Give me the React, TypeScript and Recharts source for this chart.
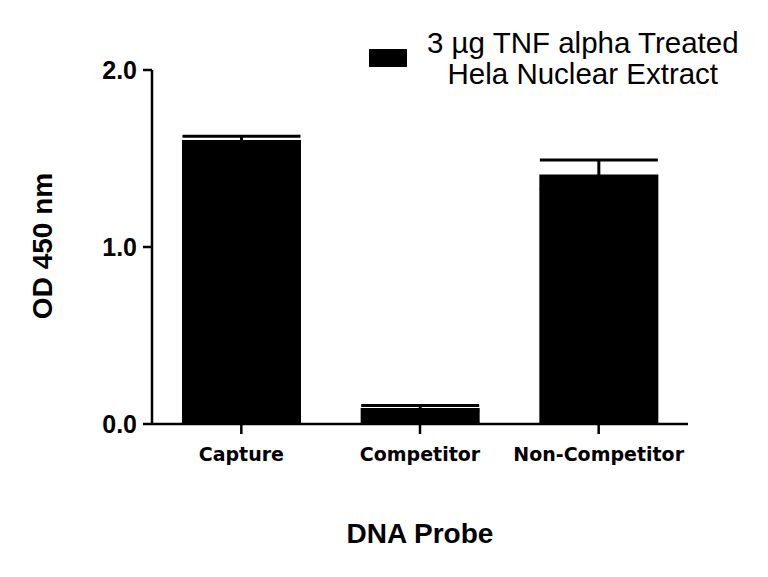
import { Bar, BarChart, ErrorBar, Label, Legend, XAxis, YAxis } from "recharts";

const probes = ["Capture", "Competitor", "Non-Competitor"];
const od450 = [1.605, 0.09, 1.409];
const sem = [0.021, 0.015, 0.083];
const yTicks = [0, 1, 2];
const seriesName = ["3 µg TNF alpha Treated", "Hela Nuclear Extract"];

const data = probes.map((probe, i) => ({ probe, od: od450[i], err: sem[i] }));

const axisFont = "'Liberation Sans', Arial, sans-serif";

function LegendBox() {
  return (
    <div style={{ display: "flex", alignItems: "center" }}>
      <span style={{ display: "inline-block", width: 38, height: 18, background: "#000", marginRight: 20 }} />
      <div style={{ textAlign: "center", fontFamily: axisFont, fontSize: 29.5, lineHeight: "31px", color: "#000" }}>
        {seriesName.map((line) => (
          <div key={line}>{line}</div>
        ))}
      </div>
    </div>
  );
}

export default function App() {
  return (
    <div style={{ position: "absolute", left: 0, top: 0, width: 768, height: 577, background: "#fff" }}>
      <BarChart width={768} height={577} data={data} margin={{ top: 70, right: 80, bottom: 33, left: 0 }}>
        <XAxis
          dataKey="probe"
          stroke="#000"
          strokeWidth={2.5}
          tickSize={10}
          tickMargin={14}
          height={120}
          tick={{ fill: "#000", fontSize: 19, fontWeight: 700, fontFamily: "'DejaVu Sans', sans-serif" }}
        >
          <Label
            content={(props: any) => {
              const vb = props.viewBox;
              return (
                <text x={vb.x + vb.width / 2} y={543} textAnchor="middle" fontFamily={axisFont} fontSize={28} fontWeight={700} fill="#000">
                  DNA Probe
                </text>
              );
            }}
          />
        </XAxis>
        <YAxis
          width={152}
          domain={[0, 2]}
          ticks={yTicks}
          tickFormatter={(v: number) => v.toFixed(1)}
          stroke="#000"
          strokeWidth={2.5}
          tickSize={9}
          tickMargin={6}
          tick={{ fill: "#000", fontSize: 25, fontWeight: 700, fontFamily: axisFont }}
        >
          <Label
            content={() => (
              <text
                x={42}
                y={246}
                transform="rotate(-90 42 246)"
                textAnchor="middle"
                dominantBaseline="central"
                fontFamily={axisFont}
                fontSize={28}
                fontWeight={700}
                fill="#000"
              >
                OD 450 nm
              </text>
            )}
          />
        </YAxis>
        <Legend
          layout="horizontal"
          verticalAlign="middle"
          align="center"
          content={() => <LegendBox />}
          wrapperStyle={{ top: 27, left: 369, width: "auto", height: "auto" }}
        />
        <Bar dataKey="od" fill="#000" barSize={119} isAnimationActive={false}>
          <ErrorBar dataKey="err" width={59} stroke="#000" strokeWidth={3} isAnimationActive={false} />
        </Bar>
      </BarChart>
    </div>
  );
}
